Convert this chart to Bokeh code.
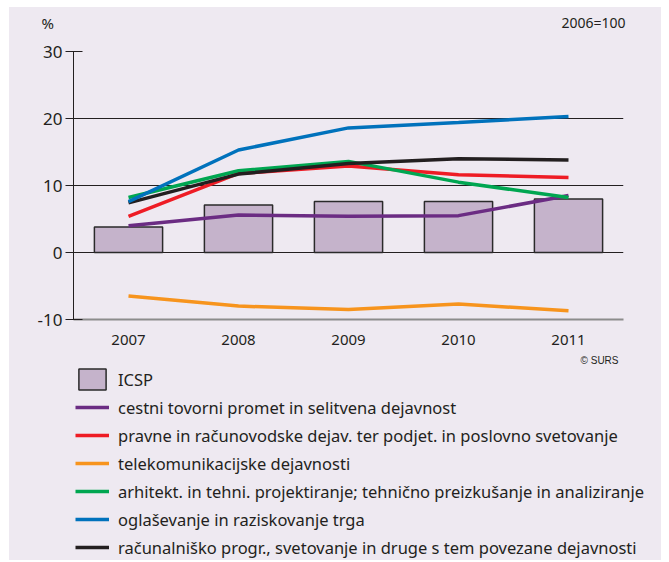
from bokeh.plotting import figure
from bokeh.layouts import column
from bokeh.models import Range1d, FixedTicker, Legend, LegendItem, Label
from bokeh.embed import file_html
from bokeh.resources import INLINE

years = [2007, 2008, 2009, 2010, 2011]
icsp = [3.8, 7.1, 7.6, 7.6, 8.0]
cestni = [4.0, 5.6, 5.4, 5.5, 8.5]
pravne = [5.4, 11.8, 12.9, 11.6, 11.2]
telekom = [-6.5, -8.0, -8.5, -7.7, -8.7]
arhitekt = [8.2, 12.2, 13.6, 10.5, 8.2]
oglas = [7.6, 15.3, 18.6, 19.4, 20.3]
racun = [7.4, 11.7, 13.3, 14.0, 13.8]

y_ticks = [-10, 0, 10, 20, 30]
grid_ticks = [0, 10, 20]

labels = {
    "icsp": "ICSP",
    "cestni": "cestni tovorni promet in selitvena dejavnost",
    "pravne": "pravne in računovodske dejav. ter podjet. in poslovno svetovanje",
    "telekom": "telekomunikacijske dejavnosti",
    "arhitekt": "arhitekt. in tehni. projektiranje; tehnično preizkušanje in analiziranje",
    "oglas": "oglaševanje in raziskovanje trga",
    "racun": "računalniško progr., svetovanje in druge s tem povezane dejavnosti",
}

colors = {
    "cestni": "#6B2C83",
    "pravne": "#EE1C25",
    "telekom": "#F7941D",
    "arhitekt": "#00A651",
    "oglas": "#0072BC",
    "racun": "#231F20",
}
values = {"cestni": cestni, "pravne": pravne, "telekom": telekom,
          "arhitekt": arhitekt, "oglas": oglas, "racun": racun}
draw_order = ["telekom", "cestni", "pravne", "arhitekt", "racun", "oglas"]
legend_order = ["cestni", "pravne", "telekom", "arhitekt", "oglas", "racun"]

FONT = "Noto Sans"
BG = "#EEE9F1"
INK = "#231F20"
BAR_FILL = "#C5B3CB"
BAR_LINE = "#2a2a2a"
W = 652


def blank(height):
    f = figure(width=W, height=height, output_backend="svg", toolbar_location=None,
               x_range=Range1d(0, 1), y_range=Range1d(0, 1),
               min_border=0, min_border_left=0, min_border_right=0,
               min_border_top=0, min_border_bottom=0)
    f.frame_align = False
    f.axis.visible = False
    f.grid.visible = False
    f.background_fill_color = BG
    f.border_fill_color = BG
    f.outline_line_color = None
    return f


# ---- header with units ----
head = blank(29)
head.add_layout(Label(x=32, y=14, x_units="screen", y_units="screen", text="%",
                      text_font=FONT, text_font_size="15px", text_color=INK,
                      text_baseline="middle", text_align="left"))
head.add_layout(Label(x=616, y=14, x_units="screen", y_units="screen", text="2006=100",
                      text_font=FONT, text_font_size="14px", text_color=INK,
                      text_baseline="middle", text_align="right"))

# ---- main chart ----
p = figure(frame_width=550, frame_height=268, output_backend="svg", toolbar_location=None,
           x_range=Range1d(2006.5, 2011.5), y_range=Range1d(-10, 30),
           min_border_left=64, min_border_right=38, min_border_top=15,
           min_border_bottom=31)
p.frame_align = False
p.background_fill_color = BG
p.border_fill_color = BG
p.outline_line_color = None

p.xaxis.ticker = FixedTicker(ticks=years)
p.xaxis.major_tick_line_color = None
p.xaxis.minor_tick_line_color = None
p.xaxis.axis_line_color = "#8c8c8c"
p.xaxis.axis_line_width = 2
p.xaxis.major_label_text_font = FONT
p.xaxis.major_label_text_font_size = "15px"
p.xaxis.major_label_text_color = INK
p.xaxis.major_label_standoff = 9

p.yaxis.ticker = FixedTicker(ticks=y_ticks)
p.yaxis.major_label_overrides = {-10: "-10"}
p.yaxis.minor_tick_line_color = None
p.yaxis.major_tick_out = 8
p.yaxis.major_tick_in = 9
p.yaxis.major_tick_line_color = INK
p.yaxis.axis_line_color = INK
p.yaxis.major_label_text_font = FONT
p.yaxis.major_label_text_font_size = "17px"
p.yaxis.major_label_text_color = INK
p.yaxis.major_label_standoff = 3

p.xgrid.grid_line_color = None
p.ygrid.ticker = FixedTicker(ticks=grid_ticks)
p.ygrid.grid_line_color = INK
p.ygrid.grid_line_width = 1

p.vbar(x=years, top=icsp, bottom=0, width=0.62, fill_color=BAR_FILL,
       line_color=BAR_LINE, line_width=1.5)
for key in draw_order:
    p.line(years, values[key], line_color=colors[key], line_width=3.5)

# ---- legend area ----
leg = blank(210)
leg.add_layout(Label(x=609, y=200, x_units="screen", y_units="screen", text="© SURS",
                     text_font="Liberation Sans", text_font_size="10px", text_color=INK,
                     text_baseline="middle", text_align="right"))
key_bar = leg.vbar(x=years, top=icsp, bottom=0, width=0.62, fill_color=BAR_FILL,
                   line_color=BAR_LINE, line_width=1.5, visible=False)
items = [LegendItem(label=labels["icsp"], renderers=[key_bar])]
for key in legend_order:
    r = leg.line(years, values[key], line_color=colors[key], line_width=3.5, visible=False)
    items.append(LegendItem(label=labels[key], renderers=[r]))

legend = Legend(items=items, location=(66, 0), orientation="vertical",
                margin=0, padding=0, spacing=2, glyph_width=34, glyph_height=26,
                label_height=26, label_standoff=9,
                label_text_font=FONT, label_text_font_size="16.5px",
                label_text_color=INK, inactive_fill_alpha=0,
                border_line_color=None, background_fill_alpha=0)
leg.add_layout(legend, "center")

page = column(head, p, leg, spacing=0,
              styles={"background-color": BG, "border-left": "9px solid white",
                      "border-top": "7px solid white"})
open("out.html", "w").write(file_html(page, INLINE))
